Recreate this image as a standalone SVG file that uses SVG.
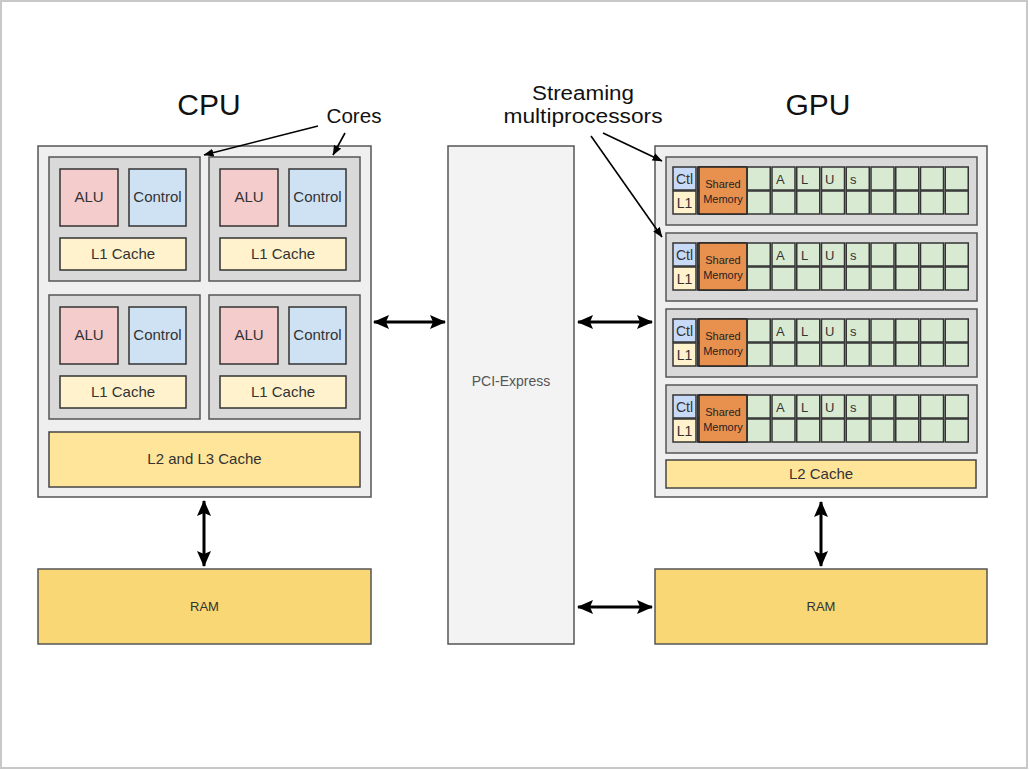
<svg xmlns="http://www.w3.org/2000/svg" width="1029" height="770" viewBox="0 0 1029 770">
<defs>
<style>
text{font-family:"Liberation Sans",Arial,sans-serif;fill:#333;}
.frame{fill:#fff;stroke:#c8c8c8;stroke-width:2;}
.outer{fill:#efefef;stroke:#555;stroke-width:1.5;}
.core{fill:#d9d9d9;stroke:#555;stroke-width:1.5;}
.alu{fill:#f4cccc;stroke:#333;stroke-width:1.5;}
.ctrl{fill:#cfe2f3;stroke:#333;stroke-width:1.5;}
.l1{fill:#fff2cc;stroke:#333;stroke-width:1.5;}
.l2{fill:#ffe599;stroke:#444;stroke-width:1.5;}
.ram{fill:#f8d774;stroke:#555;stroke-width:1.5;}
.pci{fill:#f3f3f3;stroke:#555;stroke-width:1.5;}
.cell{fill:#d9ead3;stroke:#333;stroke-width:1.5;}
.ctl{fill:#c9daf8;stroke:#333;stroke-width:1.5;}
.shm{fill:#e8914f;stroke:#222;stroke-width:1.5;}
.t14{font-size:15px;text-anchor:middle;}
.t13{font-size:13px;text-anchor:middle;}
.big{font-size:30px;text-anchor:middle;fill:#111;}
.lbl{font-size:20px;text-anchor:middle;fill:#111;}
.cl{font-size:13px;fill:#333;}
.sm{font-size:11px;text-anchor:middle;fill:#222;}
.thick{stroke:#000;stroke-width:3;fill:none;marker-start:url(#ah);marker-end:url(#ah);}
.thin{stroke:#000;stroke-width:1.6;fill:none;marker-end:url(#ahs);}
</style>
<marker id="ah" viewBox="0 0 16 14" refX="15" refY="7" markerWidth="16" markerHeight="14" markerUnits="userSpaceOnUse" orient="auto-start-reverse">
<path d="M0,0 L16,7 L0,14 L3,7 z" fill="#000"/>
</marker>
<marker id="ahs" viewBox="0 0 10 8" refX="9.5" refY="4" markerWidth="10" markerHeight="8" markerUnits="userSpaceOnUse" orient="auto">
<path d="M0,0 L10,4 L0,8 z" fill="#000"/>
</marker>
<g id="core-tpl">
<rect class="core" x="0" y="0" width="151" height="124"/>
<rect class="alu" x="11" y="12" width="58" height="57"/>
<text class="t14" x="40" y="45">ALU</text>
<rect class="ctrl" x="80" y="12" width="57" height="57"/>
<text class="t14" x="108.5" y="45">Control</text>
<rect class="l1" x="11" y="81" width="126" height="32"/>
<text class="t14" x="74" y="102">L1 Cache</text>
</g>
<g id="sm-tpl">
<rect class="core" x="0" y="0" width="311" height="68"/>
<rect class="ctl" x="7" y="10" width="23" height="23"/>
<text class="t13" x="18.5" y="27" style="font-size:14px">Ctl</text>
<rect class="l1" x="7" y="34" width="23" height="23"/>
<text class="t13" x="18.5" y="51" style="font-size:14px">L1</text>
<rect class="cell" x="31.75" y="10" width="23" height="23"/><rect class="cell" x="31.75" y="34" width="23" height="23"/>
<rect class="cell" x="56.5" y="10" width="23" height="23"/><rect class="cell" x="56.5" y="34" width="23" height="23"/>
<rect class="shm" x="33" y="10" width="48" height="47"/>
<text class="sm" x="57" y="31">Shared</text>
<text class="sm" x="57" y="46">Memory</text>
<rect class="cell" x="81.25" y="10" width="23" height="23"/><rect class="cell" x="81.25" y="34" width="23" height="23"/>
<rect class="cell" x="106" y="10" width="23" height="23"/><rect class="cell" x="106" y="34" width="23" height="23"/>
<rect class="cell" x="130.75" y="10" width="23" height="23"/><rect class="cell" x="130.75" y="34" width="23" height="23"/>
<rect class="cell" x="155.5" y="10" width="23" height="23"/><rect class="cell" x="155.5" y="34" width="23" height="23"/>
<rect class="cell" x="180.25" y="10" width="23" height="23"/><rect class="cell" x="180.25" y="34" width="23" height="23"/>
<rect class="cell" x="205" y="10" width="23" height="23"/><rect class="cell" x="205" y="34" width="23" height="23"/>
<rect class="cell" x="229.75" y="10" width="23" height="23"/><rect class="cell" x="229.75" y="34" width="23" height="23"/>
<rect class="cell" x="254.5" y="10" width="23" height="23"/><rect class="cell" x="254.5" y="34" width="23" height="23"/>
<rect class="cell" x="279.25" y="10" width="23" height="23"/><rect class="cell" x="279.25" y="34" width="23" height="23"/>
<text class="cl" x="110" y="27">A</text>
<text class="cl" x="135" y="27">L</text>
<text class="cl" x="159" y="27">U</text>
<text class="cl" x="184" y="27">s</text>
</g>
</defs>
<rect class="frame" x="1" y="1" width="1026" height="767"/>
<g id="cpu">
<rect class="outer" x="38" y="146" width="333" height="351"/>
<text class="big" x="209" y="115">CPU</text>
</g>
<g id="core1"><use href="#core-tpl" x="49" y="157"/></g>
<g id="core2"><use href="#core-tpl" x="209" y="157"/></g>
<g id="core3"><use href="#core-tpl" x="49" y="295"/></g>
<g id="core4"><use href="#core-tpl" x="209" y="295"/></g>
<g id="cpu-l2l3">
<rect class="l2" x="49" y="432" width="311" height="55"/>
<text class="t14" x="204.5" y="464">L2 and L3 Cache</text>
</g>
<g id="cpu-ram">
<rect class="ram" x="38" y="569" width="333" height="75"/>
<text class="t13" x="204.5" y="611">RAM</text>
</g>
<g id="pci">
<rect class="pci" x="448" y="146" width="126" height="498"/>
<text class="t13" x="511" y="386" style="fill:#555;font-size:14px">PCI-Express</text>
</g>
<g id="gpu">
<rect class="outer" x="655" y="146" width="332" height="351"/>
<text class="big" x="818" y="115">GPU</text>
</g>
<g id="sm1"><use href="#sm-tpl" x="666" y="157"/></g>
<g id="sm2"><use href="#sm-tpl" x="666" y="233"/></g>
<g id="sm3"><use href="#sm-tpl" x="666" y="309"/></g>
<g id="sm4"><use href="#sm-tpl" x="666" y="385"/></g>
<g id="gpu-l2">
<rect class="l2" x="666" y="460" width="310" height="28"/>
<text class="t14" x="821" y="479">L2 Cache</text>
</g>
<g id="gpu-ram">
<rect class="ram" x="655" y="569" width="332" height="75"/>
<text class="t13" x="821" y="611">RAM</text>
</g>
<g id="label-cores"><text class="lbl" x="354" y="123" textLength="55" lengthAdjust="spacingAndGlyphs">Cores</text></g>
<g id="label-sm">
<text class="lbl" x="583" y="100" textLength="102" lengthAdjust="spacingAndGlyphs">Streaming</text>
<text class="lbl" x="583" y="123" textLength="159" lengthAdjust="spacingAndGlyphs">multiprocessors</text>
</g>
<g id="connectors">
<line class="thin" x1="318" y1="126" x2="204" y2="155"/>
<line class="thin" x1="345" y1="133" x2="333" y2="155"/>
<line class="thin" x1="603" y1="133" x2="662" y2="161"/>
<line class="thin" x1="591" y1="136" x2="662" y2="237"/>
<line class="thick" x1="374" y1="322" x2="445" y2="322"/>
<line class="thick" x1="578" y1="322" x2="652" y2="322"/>
<line class="thick" x1="578" y1="607" x2="652" y2="607"/>
<line class="thick" x1="204" y1="501" x2="204" y2="566"/>
<line class="thick" x1="821" y1="502" x2="821" y2="566"/>
</g>
</svg>
